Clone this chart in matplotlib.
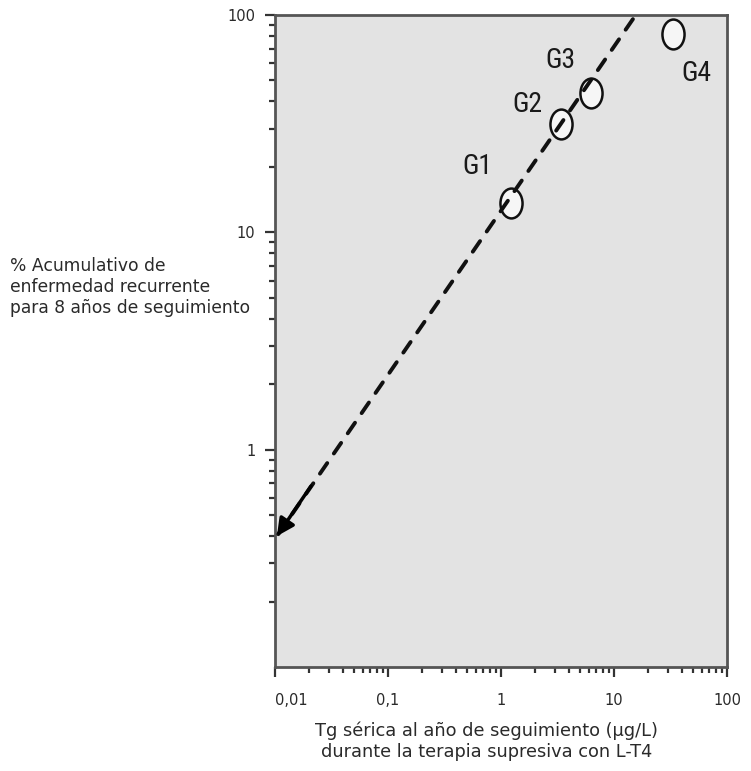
import matplotlib
matplotlib.use("Agg")
import matplotlib.pyplot as plt
from matplotlib import font_manager
from matplotlib.path import Path
from matplotlib.transforms import Affine2D
from matplotlib.ticker import LogLocator, FixedLocator, NullFormatter

plt.rcParams['font.family'] = ['DejaVu Sans']

groups = ["G1", "G2", "G3", "G4"]
tg_values = [1.22, 3.4, 6.2, 33.0]
recurrence = [13.6, 31.5, 43.7, 81.7]
trend_x = [14.7, 0.0104]
trend_y = [95.7, 0.40]
x_tick_vals = [0.01, 0.1, 1, 10, 100]
x_tick_labels = ["0,01", "0,1", "1", "10", "100"]
y_tick_vals = [1, 10, 100]
y_tick_labels = ["1", "10", "100"]

# pick a condensed font for the group labels if one is installed
narrow = "DejaVu Sans"
for name in ["Liberation Sans Narrow", "DejaVu Sans Condensed", "Roboto Condensed",
             "Open Sans Condensed", "Noto Sans Condensed"]:
    try:
        font_manager.findfont(font_manager.FontProperties(family=name), fallback_to_default=False)
        narrow = name
        break
    except Exception:
        pass

fig = plt.figure(figsize=(7.51, 7.71), dpi=100)
ax = fig.add_axes([275/751, 1-667/771, (727-275)/751, (667-15)/771])
ax.set_facecolor("#e3e3e3")
ax.set_xscale("log")
ax.set_yscale("log")
ax.set_xlim(0.01, 100)
ax.set_ylim(0.1, 100)

# tall elliptical open marker
ellipse = Path.unit_circle().transformed(Affine2D().scale(0.74, 1.0))
ax.plot(tg_values, recurrence, linestyle="none", marker=ellipse, markersize=21.5,
        markerfacecolor="#f6f6f6", markeredgecolor="#111111", markeredgewidth=1.8, zorder=3)

# dashed trend line with arrow head
ax.plot(trend_x, trend_y, linestyle=(0, (3.3, 3.0)), color="#111111", linewidth=2.8, zorder=4,
        dash_capstyle="round")
ax.annotate("", xy=(trend_x[1], trend_y[1]), xytext=(trend_x[1]*2.0, trend_y[1]*1.7),
            arrowprops=dict(arrowstyle="-|>", color="black", lw=2.5, mutation_scale=26,
                            shrinkA=0, shrinkB=0), zorder=5)

label_offsets = {"G1": (-33, 37), "G2": (-34, 20), "G3": (-30, 33), "G4": (24, -39)}
for g, x, y in zip(groups, tg_values, recurrence):
    dx, dy = label_offsets[g]
    ax.annotate(g, (x, y), xytext=(dx, dy), textcoords="offset pixels",
                ha="center", va="center", fontsize=20, family=[narrow, "DejaVu Sans"],
                color="#1a1a1a")

for s in ax.spines.values():
    s.set_color("#555555")
    s.set_linewidth(2)

ax.xaxis.set_major_locator(FixedLocator(x_tick_vals))
ax.set_xticklabels(x_tick_labels)
ax.xaxis.set_minor_locator(LogLocator(base=10, subs=range(2, 10), numticks=20))
ax.xaxis.set_minor_formatter(NullFormatter())
ax.yaxis.set_major_locator(FixedLocator(y_tick_vals))
ax.set_yticklabels(y_tick_labels)
ax.yaxis.set_minor_locator(LogLocator(base=10, subs=range(2, 10), numticks=20))
ax.yaxis.set_minor_formatter(NullFormatter())

ax.tick_params(axis="both", which="major", direction="out", length=7, width=1.6, color="#333333",
               labelsize=10.5, labelcolor="#2a2a2a", pad=7)
ax.tick_params(axis="both", which="minor", direction="out", length=4.5, width=1.6, color="#333333")
ax.tick_params(axis="x", which="major", pad=12)
xl = ax.get_xticklabels()
xl[0].set_horizontalalignment("left")

fig.text(10/751, 1-287/771, "% Acumulativo de\nenfermedad recurrente\npara 8 años de seguimiento",
         ha="left", va="center", fontsize=12.3, color="#2a2a2a", linespacing=1.18)
fig.text(487/751, 1-741/771, "Tg sérica al año de seguimiento (µg/L)\ndurante la terapia supresiva con L-T4",
         ha="center", va="center", fontsize=12.8, color="#2a2a2a", linespacing=1.2)

fig.savefig("out.png", dpi=100)
